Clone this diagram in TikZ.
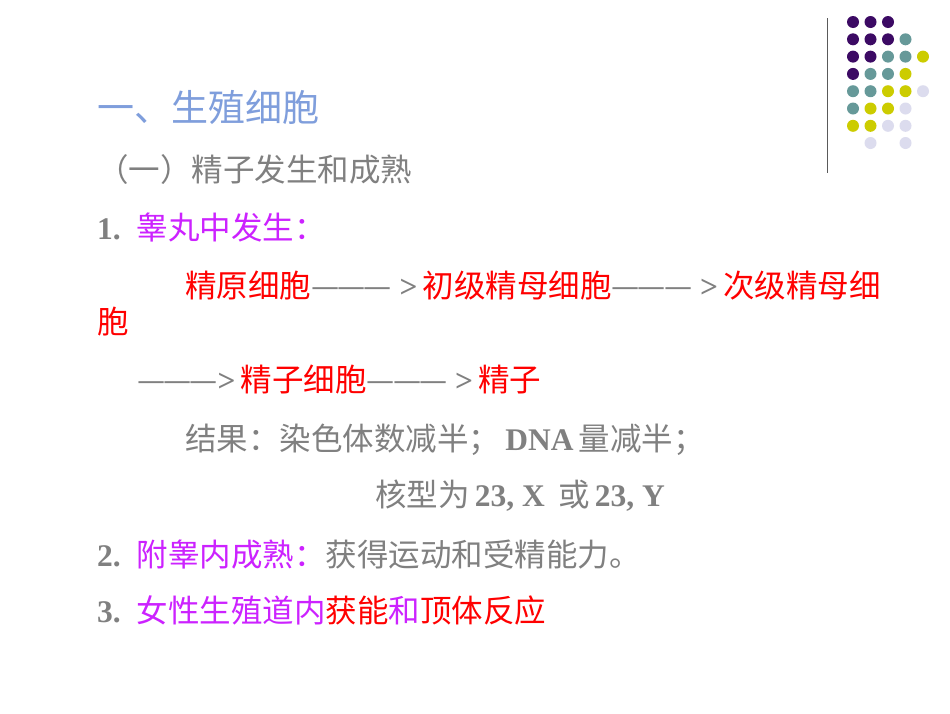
\documentclass[tikz,border=0pt]{standalone}
\usepackage{fontspec}
\setmainfont{Liberation Serif}[BoldFont={Liberation Serif Bold}]
\newfontfamily\cjk{Noto Sans CJK SC}
\definecolor{gr}{HTML}{808080}
\definecolor{mg}{HTML}{CC22FF}
\definecolor{rd}{HTML}{FF0000}
\definecolor{tb}{HTML}{7F9EDC}
\definecolor{dP}{HTML}{3C0A64}
\definecolor{dT}{HTML}{669999}
\definecolor{dY}{HTML}{CCCC00}
\definecolor{dL}{HTML}{DCDCEE}
\newcommand{\C}[1]{{\cjk\mdseries #1}}
\newcommand{\Dsh}{{\cjk\mdseries —\kern-2pt—\kern-2pt—}}
\begin{document}
\begin{tikzpicture}[x=1pt,y=-1pt,
  txt/.style={anchor=base west,inner sep=0pt,font=\fontsize{31.5}{31.5}\selectfont\bfseries,text=gr},
  dot/.style={circle,inner sep=0pt,minimum size=12pt}]
\useasboundingbox[fill=white] (0,0) rectangle (950,713);
\draw[gr!70!black,line width=1pt] (827,18) -- (827,173);
% dots
\foreach \row/\cols in {0/{P,P,P},1/{P,P,P,T},2/{P,P,T,T,Y},3/{P,T,T,Y},4/{T,T,Y,Y,L},5/{T,Y,Y,L},6/{Y,Y,L,L}}{
  \foreach \c [count=\i from 0] in \cols {
    \node[dot,fill=d\c] (d\row\i) at (853+17.5*\i, 22+17.3*\row) {};
  }
}
\node[dot,fill=dL] (d71) at (870.5,143) {};
\node[dot,fill=dL] (d73) at (905.5,143) {};
% text
\node[txt,font=\fontsize{37}{37}\selectfont,text=tb] (t0) at (97,121) {\C{一、生殖细胞}};
\node[txt,font=\fontsize{31.5}{31.5}\selectfont] (t1) at (97,181) {\C{（一）精子发生和成熟}};
\node[txt] (t2) at (97,239) {1.\ \ \textcolor{mg}{\C{睾丸中发生：}}};
\node[txt] (t3) at (185,297) {\textcolor{rd}{\C{精原细胞}}\Dsh\ >\,\textcolor{rd}{\C{初级精母细胞}}\Dsh\ >\,\textcolor{rd}{\C{次级精母细}}};
\node[txt] (t4) at (97,333) {\textcolor{rd}{\C{胞}}};
\node[txt] (t5) at (137,391) {\Dsh>\,\textcolor{rd}{\C{精子细胞}}\Dsh\ >\,\textcolor{rd}{\C{精子}}};
\node[txt] (t6) at (185,450) {\C{结果：染色体数减半；}\,DNA\,\C{量减半；}};
\node[txt] (t7) at (375,506) {\C{核型为}\,23, X\,\ \C{或}\,23, Y};
\node[txt] (t8) at (97,566) {2.\ \ \textcolor{mg}{\C{附睾内成熟：}}\C{获得运动和受精能力。}};
\node[txt] (t9) at (97,622) {3.\ \ \textcolor{mg}{\C{女性生殖道内}}\textcolor{rd}{\C{获能}}\textcolor{mg}{\C{和}}\textcolor{rd}{\C{顶体反应}}};
\end{tikzpicture}
\end{document}
